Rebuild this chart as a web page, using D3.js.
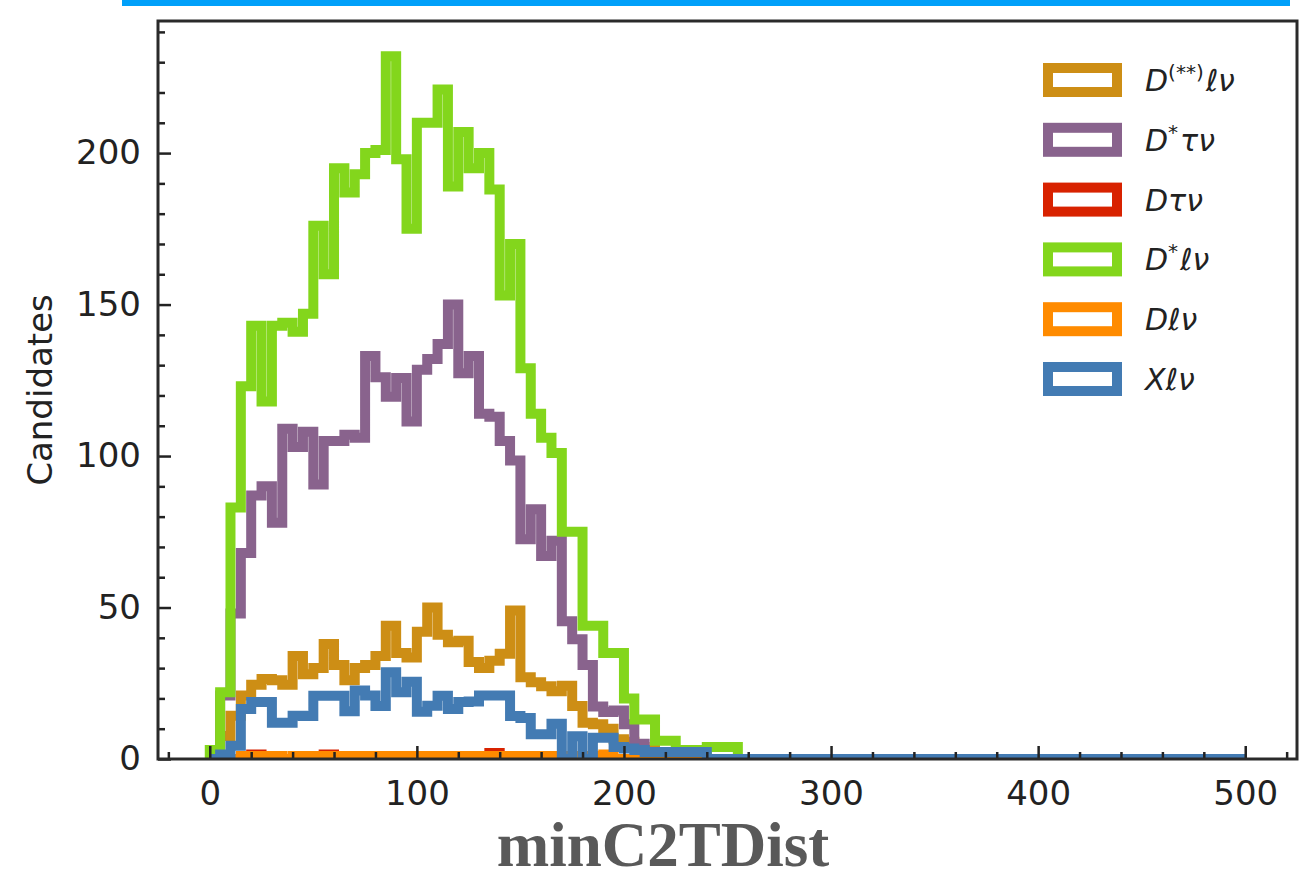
<!DOCTYPE html>
<html>
<head>
<meta charset="utf-8">
<title>minC2TDist</title>
<style>
  html, body { margin: 0; padding: 0; background: #fff; }
  svg { display: block; }
  .tick text { font-family: "DejaVu Sans", sans-serif; font-size: 34px; fill: #222; }
  .tick line { stroke: #222; stroke-width: 2.5; }
</style>
</head>
<body>
<svg id="chart" width="1305" height="879"></svg>
<script src="https://cdn.jsdelivr.net/npm/d3@7/dist/d3.min.js"></script>
<script>
// histogram binning: 100 bins of width 5 over [0, 500]
const binWidth = 5;
const nBins = 100;

const seriesNames = ['D(**)lv', 'D*tv', 'Dtv', 'D*lv', 'Dlv', 'Xlv'];
const seriesColors = ['#cd8e15', '#89638d', '#d82200', '#83d61c', '#ff8b00', '#437bb3'];

// bin contents (bins not listed are empty)
const dssLnu = [0, 7.6, 14.3, 21, 24.5, 26.4, 26, 24.5, 34, 28, 30, 38, 31, 26, 30, 31, 34, 44, 35, 33.5,
  42, 50, 41, 38.5, 39, 32, 30, 32.4, 34.7, 49, 27, 25.3, 24, 22.4, 24.2, 17.5, 12, 11.5, 10, 6.5,
  5.7, 4, 3, 2, 1];
const dstTaunu = [0, 21, 48, 68, 87, 90, 78, 109, 103, 108, 90.6, 105, 105, 107, 106, 133, 126, 119.6, 125.8, 111.4,
  128.5, 132, 137, 150, 127.3, 133, 114, 113, 105, 98.5, 72.5, 82.4, 67, 72, 45.5, 39.5, 31, 17.3, 15.5, 16,
  11.5, 5, 2, 1];
const dTaunu = [0, 0, 0, 0, 1.5, 0, 0, 0, 0, 0, 0, 1.5, 0, 0, 0, 0, 0, 0, 0, 0,
  0, 0, 0, 0, 0, 0, 0, 2];
const dstLnu = [3, 22, 83, 123, 143, 118, 143, 144, 141, 147, 176, 160, 195, 187, 193, 200, 201, 232, 198, 175,
  210, 210, 221, 189, 207, 195, 200, 188, 153, 170, 129, 114, 106, 101, 75, 75, 44, 44, 35, 35,
  20, 13, 13, 6, 6, 3, 3, 3, 4, 4, 4];
const dLnu = [0, 0, 0, 1, 1, 1, 1, 0, 1, 1, 1, 1, 1, 1, 1, 1, 1, 1, 1, 1,
  1, 1, 1, 1, 1, 1, 1, 1, 1, 1, 1, 1, 1, 1, 1, 1, 1, 1, 1.5];
const xLnu = [0, 1.5, 4.4, 16.5, 18.8, 18.8, 12, 12, 14.3, 14.2, 20.9, 20.9, 20.9, 15.8, 22.6, 21, 17.5, 28.6, 22, 25.5,
  15.6, 17.6, 20.9, 16.5, 18.8, 19, 21, 21, 21, 14.2, 13.5, 8.2, 8.2, 11.6, 0, 7.5, 0, 7, 7, 4,
  3.5, 3, 2.3, 2.3, 2.3, 2.3, 2.3, 2.3];

const allSeries = [dssLnu, dstTaunu, dTaunu, dstLnu, dLnu, xLnu];

// legend labels (math text pieces)
const legendLabels = [
  [{ t: 'D' }, { t: '(**)', sup: true }, { t: 'ℓν' }],
  [{ t: 'D' }, { t: '*', sup: true }, { t: 'τν' }],
  [{ t: 'Dτν' }],
  [{ t: 'D' }, { t: '*', sup: true }, { t: 'ℓν' }],
  [{ t: 'Dℓν' }],
  [{ t: 'Xℓν' }],
];

const xMajor = [0, 100, 200, 300, 400, 500];
const yMajor = [0, 50, 100, 150, 200];

const svg = d3.select('#chart');
const plotL = 158, plotR = 1297, plotT = 21, plotB = 759;

const x = d3.scaleLinear().domain([-25, 525]).range([plotL, plotR]);
const y = d3.scaleLinear().domain([0, 243.6]).range([plotB, plotT]);

// blue strip across the top of the picture
svg.append('rect').attr('x', 122).attr('y', 0).attr('width', 1168).attr('height', 6).attr('fill', '#00a0fa');

svg.append('clipPath').attr('id', 'plotclip')
  .append('rect').attr('x', plotL).attr('y', plotT).attr('width', plotR - plotL).attr('height', plotB - plotT);

// step outline like matplotlib histtype='step'
function stepPoints(vals) {
  const full = d3.range(nBins).map((i) => (i < vals.length ? vals[i] : 0));
  const pts = [[0, 0]];
  full.forEach((v, i) => {
    pts.push([i * binWidth, v]);
    pts.push([(i + 1) * binWidth, v]);
  });
  pts.push([nBins * binWidth, 0]);
  return pts;
}

const line = d3.line().x((d) => x(d[0])).y((d) => y(d[1]));

const histG = svg.append('g').attr('clip-path', 'url(#plotclip)');
allSeries.forEach((vals, i) => {
  histG.append('path')
    .attr('d', line(stepPoints(vals)))
    .attr('fill', 'none')
    .attr('stroke', seriesColors[i])
    .attr('stroke-width', 10)
    .attr('stroke-linejoin', 'miter')
    .attr('stroke-linecap', 'butt');
});

// axes: ticks point inward
const xMinor = d3.range(-20, 521, 20).filter((v) => v % 100 !== 0);
const yMinor = d3.range(10, 241, 10).filter((v) => v % 50 !== 0);

svg.append('g').attr('transform', `translate(0,${plotB})`)
  .call(d3.axisBottom(x).tickValues(xMinor).tickSize(-7).tickFormat(''))
  .call((g) => g.select('.domain').remove());
svg.append('g').attr('transform', `translate(0,${plotB})`)
  .call(d3.axisBottom(x).tickValues(xMajor).tickSize(-13).tickPadding(22).tickFormat(d3.format('d')))
  .call((g) => g.select('.domain').remove());

svg.append('g').attr('transform', `translate(${plotL},0)`)
  .call(d3.axisLeft(y).tickValues(yMinor).tickSize(-7).tickFormat(''))
  .call((g) => g.select('.domain').remove());
svg.append('g').attr('transform', `translate(${plotL},0)`)
  .call(d3.axisLeft(y).tickValues(yMajor).tickSize(-13).tickPadding(17).tickFormat(d3.format('d')))
  .call((g) => g.select('.domain').remove());

// frame
svg.append('rect')
  .attr('x', plotL).attr('y', plotT).attr('width', plotR - plotL).attr('height', plotB - plotT)
  .attr('fill', 'none').attr('stroke', '#2a2a2a').attr('stroke-width', 3);

// axis titles
svg.append('text')
  .attr('transform', `translate(52,${(plotT + plotB) / 2}) rotate(-90)`)
  .attr('text-anchor', 'middle')
  .attr('font-family', 'DejaVu Sans, sans-serif')
  .attr('font-size', 34)
  .attr('fill', '#222')
  .text('Candidates');

svg.append('text')
  .attr('x', 663).attr('y', 866)
  .attr('text-anchor', 'middle')
  .attr('font-family', 'Liberation Serif, Times New Roman, serif')
  .attr('font-weight', 'bold')
  .attr('font-size', 63)
  .attr('fill', '#595959')
  .text('minC2TDist');

// legend
const legend = svg.append('g');
legendLabels.forEach((parts, i) => {
  const cy = 80 + i * 59.8;
  legend.append('rect')
    .attr('x', 1048).attr('y', cy - 12).attr('width', 69).attr('height', 24)
    .attr('fill', 'none').attr('stroke', seriesColors[i]).attr('stroke-width', 10);
  const txt = legend.append('text')
    .attr('x', 1145).attr('y', cy + 11)
    .attr('font-family', 'DejaVu Sans, sans-serif')
    .attr('font-style', 'italic')
    .attr('font-size', 30)
    .attr('fill', '#222');
  let raised = false;
  parts.forEach((p) => {
    const ts = txt.append('tspan').text(p.t);
    if (p.sup) {
      ts.attr('dy', -12).attr('font-size', 20).attr('font-style', 'normal');
      raised = true;
    } else if (raised) {
      ts.attr('dy', 12).attr('dx', 2);
      raised = false;
    }
  });
});
</script>
</body>
</html>
